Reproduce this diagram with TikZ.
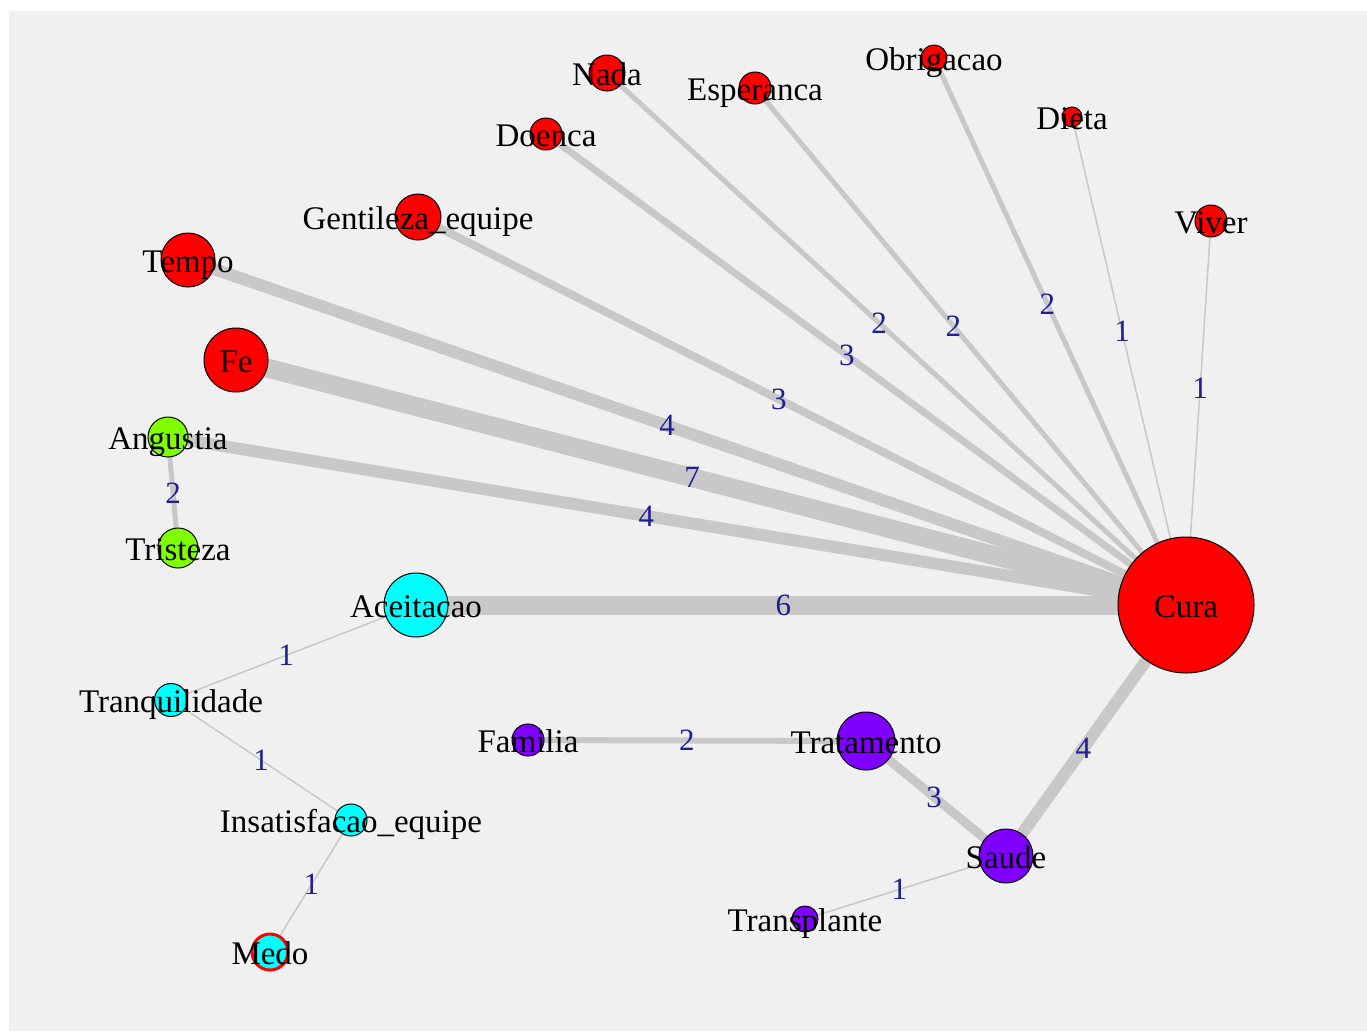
\documentclass[tikz,border=0pt]{standalone}
\usepackage{fontspec}
\setmainfont{Liberation Serif}
\definecolor{bgcol}{RGB}{240,240,240}
\definecolor{edgecol}{RGB}{200,200,200}
\definecolor{lblblue}{RGB}{30,30,150}
\definecolor{vred}{RGB}{255,0,0}
\definecolor{vgreen}{RGB}{127,255,0}
\definecolor{vcyan}{RGB}{0,255,255}
\definecolor{vpurple}{RGB}{128,0,255}
\pgfdeclarelayer{bg}
\pgfsetlayers{bg,main}
\begin{document}
\begin{tikzpicture}[x=1pt, y=-1pt,
  vtx/.style={circle, draw=black, line width=1pt, inner sep=0pt, fill=#1},
  vlbl/.style={rectangle, draw=none, fill=none, inner sep=0pt, text=black, text height=25pt, text depth=0pt, font=\fontsize{33}{36}\selectfont},
  elbl/.style={rectangle, draw=none, fill=none, inner sep=0pt, text=lblblue, font=\fontsize{31}{34}\selectfont, pos=.47},
  conn/.style={draw=edgecol, line width=#1}]
 \useasboundingbox (0,0) rectangle (1367,1031);
 \begin{pgfonlayer}{bg}
  \fill[bgcol] (9,11) rectangle (1367,1031);
 \end{pgfonlayer}

 % red group
 \node[vtx=vred, minimum size=136pt, label={[vlbl]center:Cura}] (cura) at (1186,605) {};
 \node[vtx=vred, minimum size=36pt, label={[vlbl]center:Nada}] (nada) at (607,73) {};
 \node[vtx=vred, minimum size=32pt, label={[vlbl]center:Esperanca}] (esperanca) at (755,88) {};
 \node[vtx=vred, minimum size=26pt, label={[vlbl]center:Obrigacao}] (obrigacao) at (934,58) {};
 \node[vtx=vred, minimum size=20pt, label={[vlbl]center:Dieta}] (dieta) at (1072,117) {};
 \node[vtx=vred, minimum size=32pt, label={[vlbl]center:Viver}] (viver) at (1211,221) {};
 \node[vtx=vred, minimum size=32pt, label={[vlbl]center:Doenca}] (doenca) at (546,134) {};
 \node[vtx=vred, minimum size=46pt, label={[vlbl]center:Gentileza\_equipe}] (gentileza) at (418,217) {};
 \node[vtx=vred, minimum size=54pt, label={[vlbl]center:Tempo}] (tempo) at (188,260) {};
 \node[vtx=vred, minimum size=64pt, label={[vlbl]center:Fe}] (fe) at (236,360) {};

 % green group
 \node[vtx=vgreen, minimum size=40pt, label={[vlbl]center:Angustia}] (angustia) at (168,437) {};
 \node[vtx=vgreen, minimum size=40pt, label={[vlbl]center:Tristeza}] (tristeza) at (178,548) {};

 % cyan group
 \node[vtx=vcyan, minimum size=64pt, label={[vlbl]center:Aceitacao}] (aceitacao) at (416,605) {};
 \node[vtx=vcyan, minimum size=33pt, label={[vlbl]center:Tranquilidade}] (tranquilidade) at (171,700) {};
 \node[vtx=vcyan, minimum size=32pt, label={[vlbl]center:Insatisfacao\_equipe}] (insatisfacao) at (351,820) {};
 \node[vtx=vcyan, draw=vred, line width=3pt, minimum size=36pt, label={[vlbl]center:Medo}] (medo) at (270,952) {};

 % purple group
 \node[vtx=vpurple, minimum size=32pt, label={[vlbl]center:Familia}] (familia) at (528,740) {};
 \node[vtx=vpurple, minimum size=58pt, label={[vlbl]center:Tratamento}] (tratamento) at (866,741) {};
 \node[vtx=vpurple, minimum size=54pt, label={[vlbl]center:Saude}] (saude) at (1006,856) {};
 \node[vtx=vpurple, minimum size=26pt, label={[vlbl]center:Transplante}] (transplante) at (805,919) {};

 \begin{pgfonlayer}{bg}
  \draw[conn=5pt] (nada.center) -- node[elbl]{2} (cura.center);
  \draw[conn=7pt] (doenca.center) -- node[elbl]{3} (cura.center);
  \draw[conn=5pt] (esperanca.center) -- node[elbl, pos=.46]{2} (cura.center);
  \draw[conn=5pt] (obrigacao.center) -- node[elbl, pos=.45]{2} (cura.center);
  \draw[conn=1.5pt] (dieta.center) -- node[elbl, pos=.44]{1} (cura.center);
  \draw[conn=1.5pt] (viver.center) -- node[elbl, pos=.435]{1} (cura.center);
  \draw[conn=8pt] (gentileza.center) -- node[elbl]{3} (cura.center);
  \draw[conn=12pt] (tempo.center) -- node[elbl, pos=.48]{4} (cura.center);
  \draw[conn=19pt] (fe.center) -- node[elbl, pos=.48]{7} (cura.center);
  \draw[conn=12pt] (angustia.center) -- node[elbl]{4} (cura.center);
  \draw[conn=19pt] (aceitacao.center) -- node[elbl, pos=.477]{6} (cura.center);
  \draw[conn=12pt] (saude.center) -- node[elbl, pos=.43]{4} (cura.center);
  \draw[conn=5pt] (angustia.center) -- node[elbl, pos=.51]{2} (tristeza.center);
  \draw[conn=1.5pt] (tranquilidade.center) -- node[elbl]{1} (aceitacao.center);
  \draw[conn=1.5pt] (tranquilidade.center) -- node[elbl, pos=.5]{1} (insatisfacao.center);
  \draw[conn=1.5pt] (insatisfacao.center) -- node[elbl, pos=.49]{1} (medo.center);
  \draw[conn=6pt] (familia.center) -- node[elbl]{2} (tratamento.center);
  \draw[conn=9pt] (tratamento.center) -- node[elbl, pos=.486]{3} (saude.center);
  \draw[conn=1.5pt] (transplante.center) -- node[elbl]{1} (saude.center);
 \end{pgfonlayer}
\end{tikzpicture}
\end{document}
